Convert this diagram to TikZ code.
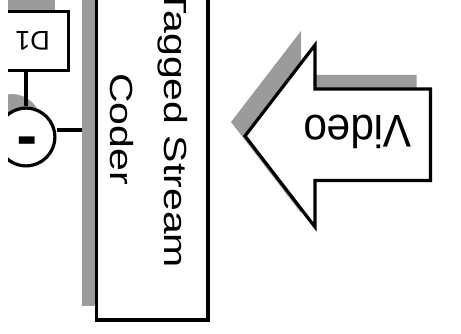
\documentclass[tikz,border=0pt]{standalone}
\usepackage{fontspec}
\setmainfont{Liberation Sans}
\usetikzlibrary{shadows}
\definecolor{shgray}{RGB}{155,155,155}
\tikzset{
  blk/.style={draw=black, line width=3.2pt, fill=white, inner sep=0pt,
    drop shadow={shadow xshift=-14pt, shadow yshift=14pt, fill=shgray, opacity=1}},
  conn/.style={draw=black, line width=3.2pt},
  lbl/.style={inner sep=0pt, text=black},
}
\begin{document}
\begin{tikzpicture}[x=1pt, y=-1pt]
\useasboundingbox (0,0) rectangle (461,334);
\begin{scope}
\clip (8,0) rectangle (461,334);
% D1 box
\node[blk, rectangle, minimum width=72.4pt, minimum height=59pt,
      font=\fontsize{27}{27}\selectfont] (d1) at (32.5,41) {\rotatebox{180}{D1}};
% subtractor circle
\node[blk, circle, minimum size=57.8pt] (circ) at (26,137) {};
\node[lbl, font=\bfseries\fontsize{62}{62}\selectfont] (minussign) at (27,134) {\rotatebox{180}{-}};
% connectors
\coordinate (cin) at (82,130);
\draw[conn] (circ.north) -- (circ.north |- d1.south);
\draw[conn] (circ.east |- cin) -- (cin);
% coder box
\node[blk, rectangle, minimum width=111.7pt, minimum height=350pt] (coder) at (152.15,145) {};
\node[lbl] (codertext) at (148.5,129)
  {\rotatebox{-90}{\scalebox{1}[0.78]{\fontsize{41}{70.5}\selectfont\begin{tabular}{@{}c@{}}Tagged Stream\\Coder\end{tabular}}}};
% video block arrow
\draw[blk, line join=miter] (245,136) -- (315,45) -- (315,89) -- (430.5,89)
  -- (430.5,180.5) -- (315,180.5) -- (315,227) -- cycle;
\node[lbl, font=\fontsize{42.5}{42.5}\selectfont] (video) at (357.5,131.5)
  {\rotatebox{180}{\scalebox{1}[1.08]{Video}}};
\end{scope}
\end{tikzpicture}
\end{document}
